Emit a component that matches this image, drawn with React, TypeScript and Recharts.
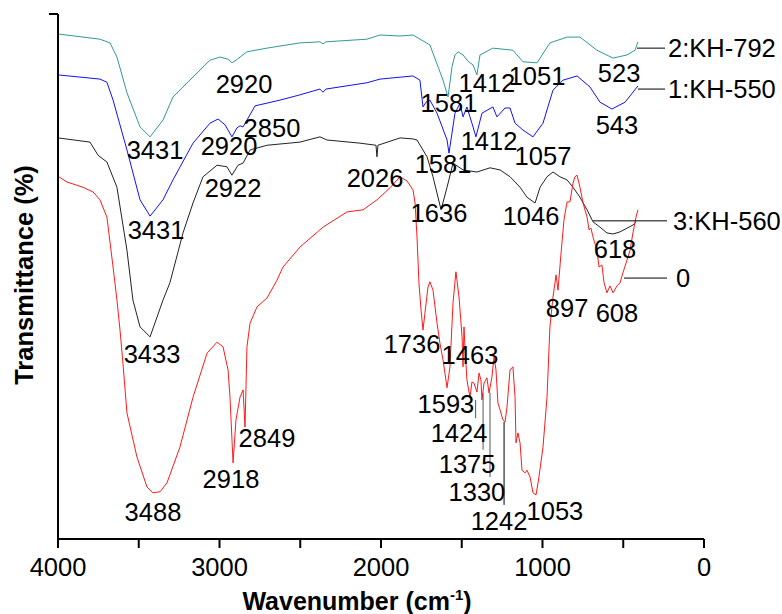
import { LineChart, Line, XAxis, YAxis, ReferenceDot, ReferenceLine } from "recharts";

const FONT = "'Liberation Sans', Arial, sans-serif";

// wavenumber (cm-1) / transmittance (arbitrary, offset per sample)
const kh792Wavenumber = [4000, 3740, 3678, 3635, 3573, 3492, 3430, 3350, 3288, 3164, 3059, 2997, 2947, 2923, 2898, 2830, 2706, 2502, 2378, 2359, 2341, 2087, 2006, 1882, 1802, 1697, 1616, 1585, 1560, 1542, 1523, 1492, 1467, 1449, 1430, 1406, 1387, 1307, 1183, 1121, 1034, 954, 848, 768, 663, 563, 477, 427, 409];
const kh792Transmittance = [96.2, 95.2, 94.5, 91.8, 85.0, 78.5, 76.6, 79.8, 84.2, 88.0, 91.2, 91.8, 91.4, 90.7, 91.2, 92.8, 93.5, 94.5, 94.7, 94.3, 94.7, 95.2, 96.0, 95.8, 96.0, 94.1, 87.4, 84.2, 90.0, 92.2, 92.8, 92.2, 91.2, 90.7, 90.3, 88.4, 92.2, 93.5, 93.1, 90.9, 90.7, 94.5, 95.6, 95.6, 93.1, 91.6, 92.2, 93.1, 94.7];

const kh550Wavenumber = [4000, 3740, 3697, 3659, 3573, 3492, 3430, 3350, 3288, 3164, 3059, 3009, 2966, 2923, 2892, 2873, 2854, 2830, 2780, 2625, 2502, 2378, 2359, 2341, 2087, 2006, 1802, 1759, 1740, 1721, 1697, 1653, 1591, 1579, 1542, 1511, 1492, 1468, 1437, 1412, 1375, 1307, 1282, 1232, 1201, 1170, 1121, 1059, 997, 935, 873, 786, 706, 644, 570, 489, 409];
const kh550Transmittance = [88.4, 87.6, 87.0, 83.6, 74.1, 64.6, 61.5, 64.6, 68.4, 75.4, 79.2, 80.0, 78.9, 76.6, 78.3, 78.7, 78.5, 79.8, 82.5, 83.6, 84.6, 85.7, 85.1, 85.7, 86.9, 87.6, 88.2, 87.4, 82.3, 83.2, 83.6, 81.1, 76.0, 73.5, 81.1, 83.0, 80.4, 82.3, 79.2, 76.6, 81.1, 82.3, 80.4, 82.1, 82.1, 79.2, 77.9, 76.6, 79.2, 85.5, 87.4, 88.2, 86.1, 83.2, 81.9, 83.2, 86.3];

const kh560Wavenumber = [4000, 3802, 3752, 3697, 3635, 3573, 3536, 3492, 3430, 3350, 3307, 3226, 3164, 3102, 3015, 2954, 2923, 2885, 2854, 2811, 2706, 2502, 2378, 2334, 2130, 2031, 2025, 2019, 1882, 1802, 1777, 1715, 1678, 1628, 1591, 1554, 1492, 1406, 1325, 1263, 1201, 1139, 1096, 1046, 1015, 972, 935, 892, 848, 811, 768, 724, 687, 644, 601, 563, 520, 477, 440, 421];
const kh560Transmittance = [76.4, 75.6, 73.1, 71.8, 67.0, 55.0, 45.5, 40.4, 38.5, 45.5, 48.8, 58.3, 64.0, 69.0, 71.2, 70.9, 69.3, 71.2, 71.6, 74.1, 75.0, 75.6, 76.6, 76.0, 75.4, 75.0, 72.8, 75.0, 76.4, 76.2, 76.0, 72.8, 69.0, 62.7, 67.0, 71.6, 70.3, 69.9, 70.7, 70.3, 69.0, 67.0, 65.1, 64.0, 67.0, 69.0, 69.9, 69.0, 68.4, 67.0, 65.1, 62.7, 60.4, 59.4, 58.3, 58.1, 58.5, 59.2, 59.8, 60.4];

const blankWavenumber = [4000, 3944, 3845, 3783, 3740, 3697, 3659, 3635, 3616, 3598, 3573, 3511, 3449, 3412, 3368, 3325, 3245, 3164, 3077, 3015, 2978, 2947, 2935, 2916, 2898, 2873, 2854, 2842, 2830, 2811, 2768, 2706, 2644, 2607, 2502, 2359, 2211, 2111, 2025, 1944, 1882, 1839, 1802, 1789, 1777, 1765, 1752, 1740, 1728, 1709, 1697, 1678, 1653, 1635, 1616, 1591, 1573, 1554, 1536, 1517, 1498, 1492, 1486, 1480, 1468, 1449, 1437, 1424, 1406, 1393, 1381, 1375, 1362, 1344, 1331, 1313, 1300, 1288, 1276, 1263, 1245, 1232, 1220, 1201, 1183, 1170, 1164, 1152, 1139, 1127, 1108, 1096, 1077, 1059, 1040, 1022, 997, 972, 960, 954, 935, 916, 904, 885, 867, 848, 830, 811, 799, 786, 768, 749, 724, 712, 700, 687, 663, 650, 632, 619, 601, 582, 563, 539, 520, 502, 477, 458, 440, 421, 409];
const blankTransmittance = [69.1, 68.0, 67.0, 66.1, 64.6, 61.3, 51.8, 45.5, 39.8, 33.5, 24.0, 15.6, 9.9, 8.8, 9.0, 10.7, 17.5, 27.0, 35.4, 37.5, 36.6, 32.2, 27.0, 14.5, 22.7, 27.0, 28.4, 21.3, 36.6, 41.1, 44.2, 45.9, 49.3, 51.8, 55.6, 59.4, 62.3, 62.7, 64.6, 66.9, 69.0, 68.2, 66.5, 64.0, 57.5, 48.8, 43.6, 39.8, 43.0, 48.0, 49.0, 47.4, 41.1, 37.3, 34.1, 28.8, 32.8, 45.0, 50.9, 46.1, 38.5, 32.8, 40.4, 36.6, 30.3, 27.0, 29.9, 29.7, 28.0, 31.6, 30.3, 26.5, 29.7, 30.7, 27.8, 30.9, 34.7, 32.2, 25.9, 24.6, 22.7, 22.3, 25.1, 32.2, 32.8, 27.0, 18.3, 20.2, 18.3, 13.1, 12.6, 13.1, 11.8, 8.8, 8.4, 11.8, 17.5, 27.0, 36.0, 40.4, 46.1, 50.3, 47.4, 54.5, 60.8, 64.2, 64.2, 67.8, 69.0, 69.3, 67.0, 64.0, 61.3, 58.9, 59.2, 57.5, 55.0, 51.8, 52.2, 48.8, 46.9, 48.2, 46.9, 48.2, 48.8, 50.7, 53.1, 55.0, 58.3, 61.3, 62.7];

const xTicks = [0, 500, 1000, 1500, 2000, 2500, 3000, 3500, 4000];

// peak annotations: text, wavenumber, level
const peakLabels: [string, number, number][] = [
  ["3431", 3399, 74.1], ["2920", 2848, 86.7], ["1581", 1579, 83.0], ["1412", 1344, 86.9], ["1051", 1034, 88.2], ["523", 526, 88.8],
  ["3431", 3393, 58.9], ["2920", 2941, 74.9], ["2850", 2675, 78.3], ["1581", 1616, 71.4], ["1412", 1331, 75.8], ["1057", 997, 73.0], ["543", 539, 78.9],
  ["3433", 3418, 35.2], ["2922", 2916, 66.9], ["2026", 2037, 68.8], ["1636", 1641, 62.1], ["1046", 1071, 61.5], ["618", 551, 55.2],
  ["3488", 3412, 5.1], ["2918", 2929, 11.4], ["2849", 2706, 19.2], ["1736", 1808, 37.1], ["1463", 1449, 35.0], ["1593", 1598, 25.7],
  ["1424", 1517, 20.2], ["1375", 1467, 14.3], ["1330", 1406, 9.0], ["1242", 1269, 3.4], ["1053", 923, 5.3], ["897", 848, 44.0], ["608", 539, 43.0],
];

// leader lines below the 0 sample peaks: wavenumber, from, to
const leaders: [number, number, number, string][] = [
  [1414, 26.5, 23.0, "#555"],
  [1368, 27.8, 17.0, "#555"],
  [1325, 27.8, 11.8, "#555"],
  [1238, 22.3, 6.5, "#000"],
];

// sample names: text, line start, line end, level, gap
const sampleLabels: [string, number, number, number, number][] = [
  ["2:KH-792", 415, 241, 93.5, 3],
  ["1:KH-550", 409, 241, 85.7, 3],
  ["3:KH-560", 687, 229, 60.6, 6],
  ["0", 495, 229, 49.7, 9],
];

const pts = (wn: number[], t: number[]) => wn.map((w, i) => ({ w, t: t[i] }));

const series = [
  { key: "kh792", data: pts(kh792Wavenumber, kh792Transmittance), color: "#2f9a94" },
  { key: "kh550", data: pts(kh550Wavenumber, kh550Transmittance), color: "#1010ff" },
  { key: "kh560", data: pts(kh560Wavenumber, kh560Transmittance), color: "#222222" },
  { key: "blank", data: pts(blankWavenumber, blankTransmittance), color: "#ff1a1a" },
];

const LABEL_SIZE = 25.5;

export default function App() {
  return (
    <div style={{ position: "absolute", left: 0, top: 0, fontFamily: FONT }}>
      <LineChart width={782} height={614} margin={{ top: 14, right: 78, left: 49, bottom: 15 }}>
        <XAxis
          dataKey="w"
          type="number"
          domain={[0, 4000]}
          reversed
          ticks={xTicks}
          interval={0}
          tickFormatter={(v: number) => (v % 1000 === 0 ? String(v) : "")}
          height={60}
          tickSize={9}
          tickMargin={10}
          axisLine={{ stroke: "#000", strokeWidth: 2 }}
          tickLine={{ stroke: "#000", strokeWidth: 2 }}
          tick={{ fill: "#000", fontSize: LABEL_SIZE, fontFamily: FONT }}
          label={{
            content: () => (
              <text x={357} y={610} textAnchor="middle" fontSize={25} fontWeight="bold" fontFamily={FONT} fill="#000">
                Wavenumber (cm
                <tspan dy={-10} fontSize={15}>-1</tspan>
                <tspan dy={10}>)</tspan>
              </text>
            ),
          }}
        />
        <YAxis
          type="number"
          domain={[0, 100]}
          ticks={[100]}
          width={9}
          tickSize={9}
          tickFormatter={() => ""}
          axisLine={{ stroke: "#000", strokeWidth: 2 }}
          tickLine={{ stroke: "#000", strokeWidth: 2 }}
          label={{
            content: () => (
              <text transform="translate(33,275) rotate(-90)" textAnchor="middle" fontSize={25.5} fontWeight="bold" fontFamily={FONT} fill="#000">
                Transmittance (%)
              </text>
            ),
          }}
        />
        {series.map((s) => (
          <Line
            key={s.key}
            data={s.data}
            dataKey="t"
            type="linear"
            stroke={s.color}
            strokeWidth={1}
            dot={false}
            activeDot={false}
            isAnimationActive={false}
          />
        ))}
        {leaders.map(([w, a, b, c], i) => (
          <ReferenceLine key={"ld" + i} segment={[{ x: w, y: a }, { x: w, y: b }]} stroke={c} strokeWidth={1} ifOverflow="visible" />
        ))}
        {sampleLabels.map(([name, a, b, lvl]) => (
          <ReferenceLine key={"sl" + name} segment={[{ x: a, y: lvl }, { x: b, y: lvl }]} stroke="#000" strokeWidth={1} ifOverflow="visible" />
        ))}
        {sampleLabels.map(([name, , b, lvl, gap]) => (
          <ReferenceDot
            key={"st" + name}
            x={b}
            y={lvl}
            r={0}
            fill="none"
            stroke="none"
            ifOverflow="visible"
            label={{ value: name, position: "right", offset: gap, fontSize: LABEL_SIZE, fill: "#000", fontFamily: FONT }}
          />
        ))}
        {peakLabels.map(([txt, w, lvl], i) => (
          <ReferenceDot
            key={"pk" + i}
            x={w}
            y={lvl}
            r={0}
            fill="none"
            stroke="none"
            ifOverflow="visible"
            label={{ value: txt, position: "center", fontSize: LABEL_SIZE, fill: "#000", fontFamily: FONT }}
          />
        ))}
      </LineChart>
    </div>
  );
}
